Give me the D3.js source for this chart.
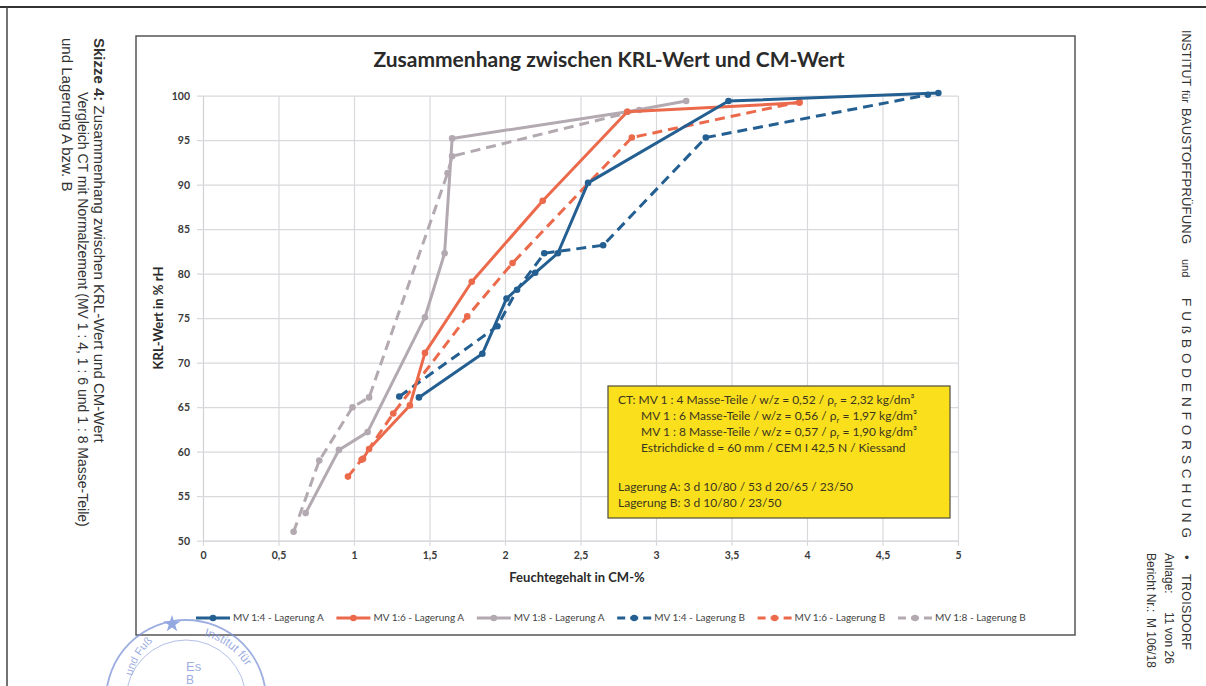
<!DOCTYPE html>
<html><head><meta charset="utf-8">
<script src="https://cdn.jsdelivr.net/npm/d3@7"></script>
<style>
html,body{margin:0;padding:0;background:#fff;}
svg{display:block;}
</style></head>
<body>
<svg id="c" width="1206" height="686"></svg>
<script>
// ---- data ----
const seriesNames = ["MV 1:4 - Lagerung A","MV 1:6 - Lagerung A","MV 1:8 - Lagerung A","MV 1:4 - Lagerung B","MV 1:6 - Lagerung B","MV 1:8 - Lagerung B"];
const mv14A_x = [1.43, 1.85, 2.01, 2.20, 2.35, 2.55, 3.48, 4.87];
const mv14A_y = [66.1, 71.0, 77.2, 80.1, 82.3, 90.2, 99.4, 100.3];
const mv16A_x = [1.06, 1.10, 1.37, 1.47, 1.78, 2.25, 2.81, 3.95];
const mv16A_y = [59.2, 60.3, 65.2, 71.1, 79.1, 88.2, 98.2, 99.2];
const mv18A_x = [0.68, 0.90, 1.09, 1.47, 1.60, 1.65, 2.81, 3.20];
const mv18A_y = [53.1, 60.2, 62.2, 75.1, 82.3, 95.2, 98.2, 99.4];
const mv14B_x = [1.30, 1.95, 2.08, 2.26, 2.65, 3.33, 4.80];
const mv14B_y = [66.2, 74.1, 78.2, 82.3, 83.2, 95.3, 100.1];
const mv16B_x = [0.96, 1.05, 1.26, 1.75, 2.05, 2.84, 3.95];
const mv16B_y = [57.2, 59.1, 64.3, 75.2, 81.2, 95.3, 99.3];
const mv18B_x = [0.60, 0.77, 0.99, 1.10, 1.62, 1.65, 2.89];
const mv18B_y = [51.0, 59.0, 65.0, 66.1, 91.3, 93.2, 98.4];
const xTicks = [0,0.5,1,1.5,2,2.5,3,3.5,4,4.5,5];
const yTicks = [50,55,60,65,70,75,80,85,90,95,100];
const boxLines = [
  ["CT: MV 1 : 4 Masse-Teile / w/z = 0,52 / ", "2,32 kg/dm³"],
  ["MV 1 : 6 Masse-Teile / w/z = 0,56 / ", "1,97 kg/dm³"],
  ["MV 1 : 8 Masse-Teile / w/z = 0,57 / ", "1,90 kg/dm³"],
  ["Estrichdicke d = 60 mm / CEM I 42,5 N / Kiessand", null],
  ["Lagerung A: 3 d 10/80 / 53 d 20/65 / 23/50", null],
  ["Lagerung B: 3 d 10/80 / 23/50", null]
];

const colors = ["#245f91","#ec6a4c","#b3a9b0","#245f91","#ec6a4c","#b3a9b0"];
const dashed = [false,false,false,true,true,true];
const xs = [mv14A_x,mv16A_x,mv18A_x,mv14B_x,mv16B_x,mv18B_x];
const ys = [mv14A_y,mv16A_y,mv18A_y,mv14B_y,mv16B_y,mv18B_y];

const svg = d3.select("#c");
const F = "Lato, 'Open Sans', sans-serif";

// page borders
svg.append("line").attr("x1",0).attr("x2",1206).attr("y1",7).attr("y2",7).attr("stroke","#333").attr("stroke-width",2);
svg.append("line").attr("x1",7).attr("x2",7).attr("y1",7).attr("y2",686).attr("stroke","#444").attr("stroke-width",1.5);

// chart frame
svg.append("rect").attr("x",136).attr("y",36).attr("width",939).attr("height",599)
  .attr("fill","#fff").attr("stroke","#555").attr("stroke-width",1.5);

const x = d3.scaleLinear().domain([0,5]).range([203,958]);
const y = d3.scaleLinear().domain([50,100]).range([540.7,95.7]);

// grid
const gx = svg.append("g").attr("transform",`translate(0,${y(50)})`)
  .call(d3.axisBottom(x).tickValues(xTicks).tickSizeInner(-(y(50)-y(100))).tickSizeOuter(0).tickFormat(""));
gx.selectAll("line").attr("stroke","#d9d9dd").attr("stroke-width",1.2).attr("y2", -(y(50)-y(100))).attr("y1",5);
gx.select(".domain").attr("stroke","#d0d0d4");
const gy = svg.append("g").attr("transform",`translate(${x(0)},0)`)
  .call(d3.axisLeft(y).tickValues(yTicks).tickSizeInner(-(x(5)-x(0))).tickSizeOuter(0).tickFormat(""));
gy.selectAll("line").attr("stroke","#d9d9dd").attr("stroke-width",1.2).attr("x1",-6);
gy.select(".domain").attr("stroke","#d0d0d4");

// tick labels via axes
const lx = svg.append("g").attr("transform",`translate(0,${y(50)})`)
  .call(d3.axisBottom(x).tickValues(xTicks).tickSize(0).tickPadding(11).tickFormat(d=>String(d).replace(".",",")));
lx.select(".domain").remove();
lx.selectAll("text").attr("font-family",F).attr("font-weight","bold").attr("font-size",10.5).attr("fill","#3a3a3a");
const ly = svg.append("g").attr("transform",`translate(${x(0)},0)`)
  .call(d3.axisLeft(y).tickValues(yTicks).tickSize(0).tickPadding(13).tickFormat(d=>d));
ly.select(".domain").remove();
ly.selectAll("text").attr("font-family",F).attr("font-weight","bold").attr("font-size",10.5).attr("fill","#3a3a3a");

// title & axis titles
svg.append("text").attr("x",609).attr("y",67).attr("text-anchor","middle")
  .attr("font-family",F).attr("font-weight","bold").attr("font-size",21).attr("fill","#2a2a2a")
  .text("Zusammenhang zwischen KRL-Wert und CM-Wert");
svg.append("text").attr("x",577).attr("y",582).attr("text-anchor","middle")
  .attr("font-family",F).attr("font-weight","bold").attr("font-size",13).attr("fill","#2a2a2a")
  .text("Feuchtegehalt in CM-%");
svg.append("text").attr("transform","translate(163,318) rotate(-90)").attr("text-anchor","middle")
  .attr("font-family",F).attr("font-weight","bold").attr("font-size",13).attr("fill","#2a2a2a")
  .text("KRL-Wert in % rH");

// series
const line = d3.line().x(d=>x(d[0])).y(d=>y(d[1]));
const order = [5,4,3,2,1,0];
order.forEach(i=>{
  const pts = xs[i].map((v,k)=>[v,ys[i][k]]);
  svg.append("path").datum(pts).attr("d",line).attr("fill","none")
    .attr("stroke",colors[i]).attr("stroke-width",3)
    .attr("stroke-dasharray",dashed[i]?"10,6":null).attr("stroke-linejoin","round");
  svg.append("g").selectAll("circle").data(pts).join("circle")
    .attr("cx",d=>x(d[0])).attr("cy",d=>y(d[1])).attr("r",3.3).attr("fill",colors[i]);
});

// annotation box
const bx=608, by=386, bw=342, bh=132;
svg.append("rect").attr("x",bx).attr("y",by).attr("width",bw).attr("height",bh)
  .attr("fill","#f9df1c").attr("stroke","#5b5840").attr("stroke-width",1.3);
const lineY = [404,420,436,452,491,507];
const lineX = [618,641,641,641,618,618];
boxLines.forEach((l,i)=>{
  const t = svg.append("text").attr("x",lineX[i]).attr("y",lineY[i])
    .attr("font-family",F).attr("font-size",12).attr("fill","#3b3520");
  t.append("tspan").text(l[0]);
  if(l[1]){
    t.append("tspan").text("ρ");
    t.append("tspan").attr("font-size",7.5).attr("dy",2.5).text("r");
    t.append("tspan").attr("dy",-2.5).text(" = " + l[1]);
  }
});

// legend
const legX0 = 196, legStep = 140.4, legY = 618;
seriesNames.forEach((n,i)=>{
  const lx0 = legX0 + i*legStep;
  const g = svg.append("g");
  g.append("line").attr("x1",lx0).attr("x2",lx0+34).attr("y1",legY).attr("y2",legY)
    .attr("stroke",colors[i]).attr("stroke-width",3).attr("stroke-dasharray",dashed[i]?"8,5":null);
  g.append("circle").attr("cx",lx0+17).attr("cy",legY).attr("r",3.3).attr("fill",colors[i]);
  g.append("text").attr("x",lx0+37).attr("y",legY+3.4).attr("font-family",F).attr("font-size",10)
    .attr("fill","#444").text(n);
});

// left caption (rotated)
const capF = "'Liberation Sans', Arial, sans-serif";
const c1 = svg.append("text").attr("transform","translate(94,38) rotate(90)")
  .attr("font-family",capF).attr("font-size",15).attr("fill","#333");
c1.append("tspan").attr("font-weight","bold").text("Skizze 4:");
c1.append("tspan").text(" Zusammenhang zwischen KRL-Wert und CM-Wert");
svg.append("text").attr("transform","translate(78,92) rotate(90)")
  .attr("font-family",capF).attr("font-size",14).attr("fill","#333")
  .text("Vergleich CT mit Normalzement (MV 1 : 4, 1 : 6 und 1 : 8 Masse-Teile)");
svg.append("text").attr("transform","translate(62,38) rotate(90)")
  .attr("font-family",capF).attr("font-size",15).attr("fill","#333")
  .text("und Lagerung A bzw. B");

// right header (rotated)
const hdrWords = [["INSTITUT",30,12.5,null],["für",90,11,null],["BAUSTOFFPRÜFUNG",108,13,136],["und",259,11,null],["FUßBODENFORSCHUNG",298,13.5,240],["•",555,12.5,null],["TROISDORF",574,12.5,76]];
hdrWords.forEach(w=>{
  const t = svg.append("text").attr("transform",`translate(1182,${w[1]}) rotate(90)`)
    .attr("font-family",capF).attr("font-size",w[2]).attr("fill","#333").text(w[0]);
  if(w[3]) t.attr("textLength",w[3]).attr("lengthAdjust","spacing");
});
[["Anlage:",553,1165],["11 von 26",612,1165],["Bericht Nr.:",553,1147],["M 106/18",618,1147]].forEach(w=>{
  svg.append("text").attr("transform",`translate(${w[2]},${w[1]}) rotate(90)`)
    .attr("font-family",capF).attr("font-size",12).attr("fill","#333").text(w[0]);
});

// stamp (partial, bottom-left)
const st = svg.append("g").attr("opacity",0.75);
st.append("circle").attr("cx",186).attr("cy",700).attr("r",80).attr("fill","none").attr("stroke","#7d93d8").attr("stroke-width",1.8);
st.append("circle").attr("cx",186).attr("cy",700).attr("r",60).attr("fill","none").attr("stroke","#9aabe0").attr("stroke-width",1);
st.append("path").attr("d",d3.symbol(d3.symbolStar,90)()).attr("transform","translate(172,624)").attr("fill","#6f8ad8");
svg.append("defs").append("path").attr("id","arcR").attr("d","M 204,636 A 70,70 0 0,1 254,684");
svg.append("defs").append("path").attr("id","arcL").attr("d","M 132,676 A 68,68 0 0,1 152,642");
st.append("text").attr("font-family",capF).attr("font-size",12).attr("fill","#7d93d8")
  .append("textPath").attr("href","#arcR").text("Institut für");
st.append("text").attr("font-family",capF).attr("font-size",11).attr("fill","#7d93d8")
  .append("textPath").attr("href","#arcL").text("und Fußb");
st.append("text").attr("x",186).attr("y",671).attr("font-family",capF).attr("font-size",13).attr("fill","#7d93d8").text("Es");
st.append("text").attr("x",186).attr("y",684).attr("font-family",capF).attr("font-size",12).attr("fill","#7d93d8").text("B");
</script>
</body></html>
